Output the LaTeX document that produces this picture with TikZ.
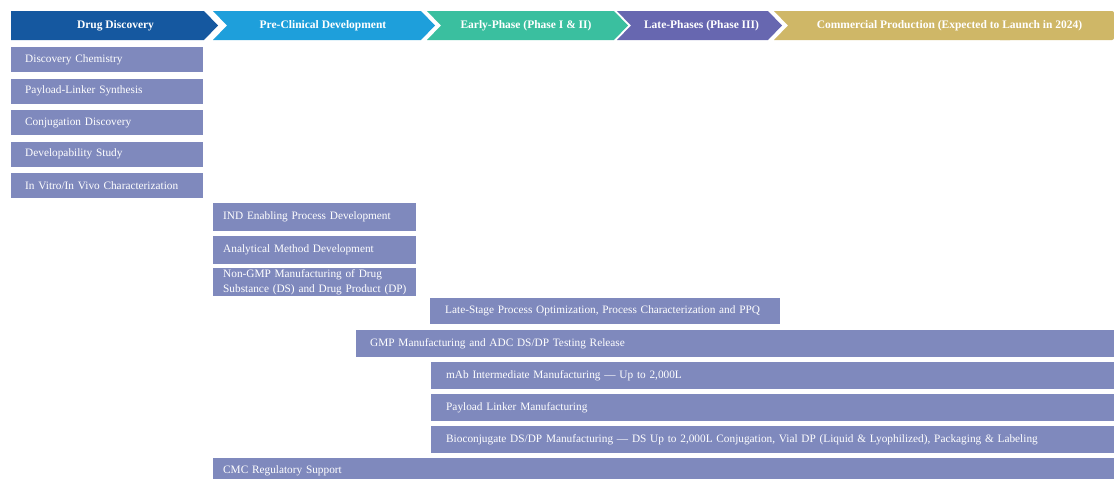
\documentclass[tikz,border=0pt]{standalone}
\usepackage{fontspec}
\setmainfont{Liberation Serif}
\usepackage{tikz}
\usetikzlibrary{positioning}
\definecolor{discblue}{HTML}{1558A0}
\definecolor{precblue}{HTML}{1E9FDB}
\definecolor{earlygreen}{HTML}{3ABF9F}
\definecolor{latepurple}{HTML}{6767B0}
\definecolor{commgold}{HTML}{CFB767}
\definecolor{barcol}{HTML}{7F89BD}
\tikzset{
	phase/.style={draw=none},
	phaselabel/.style={text=white, font=\fontsize{11.5}{13}\selectfont\bfseries},
	task/.style={fill=barcol, text=white, anchor=north west, inner ysep=0pt, align=left,
		font=\fontsize{11.3}{15.5}\selectfont},
}

\begin{document}
\begin{tikzpicture}[x=1pt, y=-1pt]
			\useasboundingbox (0,0) rectangle (1114,479);
			% Phases
			\fill [phase, discblue] (11,11)--(204,11)--(218,25.5)--(204,40)--(11,40)--cycle;
			\fill [phase, precblue] (213,11)--(421,11)--(435,25.5)--(421,40)--(213,40)--(227,25.5)--cycle;
			\fill [phase, earlygreen] (427,11)--(614,11)--(628,25.5)--(614,40)--(427,40)--(441,25.5)--cycle;
			\fill [phase, latepurple] (617,11)--(768,11)--(782,25.5)--(768,40)--(617,40)--(631,25.5)--cycle;
			\fill [phase, commgold, rounded corners=2pt] (1000,11)--(1114,11)--(1114,40)--(1000,40);
			\fill [phase, commgold] (774,11)--(1010,11)--(1010,40)--(774,40)--(788,25.5)--cycle;
			\node [phaselabel] (hdisc) at (115.5,25.5) {Drug Discovery};
			\node [phaselabel] (hprec) at (323,25.5) {Pre-Clinical Development};
			\node [phaselabel] (hearly) at (526,25.5) {Early-Phase (Phase I \& II)};
			\node [phaselabel] (hlate) at (701.5,25.5) {Late-Phases (Phase III)};
			\node [phaselabel] (hcomm) at (949.5,25.5) {Commercial Production (Expected to Launch in 2024)};
			% Drug discovery
			\node [task, text width=164, inner xsep=14, minimum height=25] (chem) at (11,47) {Discovery Chemistry};
			\node [task, text width=164, inner xsep=14, minimum height=25] (plsyn) at (11,78.5) {Payload-Linker Synthesis};
			\node [task, text width=164, inner xsep=14, minimum height=25] (conj) at (11,110) {Conjugation Discovery};
			\node [task, text width=164, inner xsep=14, minimum height=25] (devel) at (11,141.5) {Developability Study};
			\node [task, text width=164, inner xsep=14, minimum height=25] (invitro) at (11,173) {In Vitro/In Vivo Characterization};
			% Pre-clinical
			\node [task, text width=183, inner xsep=10, minimum height=28] (ind) at (213,203) {IND Enabling Process Development};
			\node [task, text width=183, inner xsep=10, minimum height=28] (anal) at (213,236) {Analytical Method Development};
			\node [task, text width=183, inner xsep=10, minimum height=28] (nongmp) at (213,268) {Non-GMP Manufacturing of Drug\\\mbox{Substance (DS) and Drug Product (DP)}};
			% Clinical and commercial
			\node [task, text width=320, inner xsep=15, minimum height=26] (ppq) at (430,298) {\mbox{Late-Stage Process Optimization, Process Characterization and PPQ}};
			\node [task, text width=730, inner xsep=14, minimum height=27] (gmp) at (356,330) {GMP Manufacturing and ADC DS/DP Testing Release};
			\node [task, text width=653, inner xsep=15, minimum height=27] (mab) at (431,362) {mAb Intermediate Manufacturing --- Up to 2,000L};
			\node [task, text width=653, inner xsep=15, minimum height=27] (plman) at (431,394) {Payload Linker Manufacturing};
			\node [task, text width=653, inner xsep=15, minimum height=27] (bioconj) at (431,426) {Bioconjugate DS/DP Manufacturing --- DS Up to 2,000L Conjugation, Vial DP (Liquid \& Lyophilized), Packaging \& Labeling};
			\node [task, text width=881, inner xsep=10, minimum height=26] (cmc) at (213,458) {CMC Regulatory Support};
\end{tikzpicture}
\end{document}
